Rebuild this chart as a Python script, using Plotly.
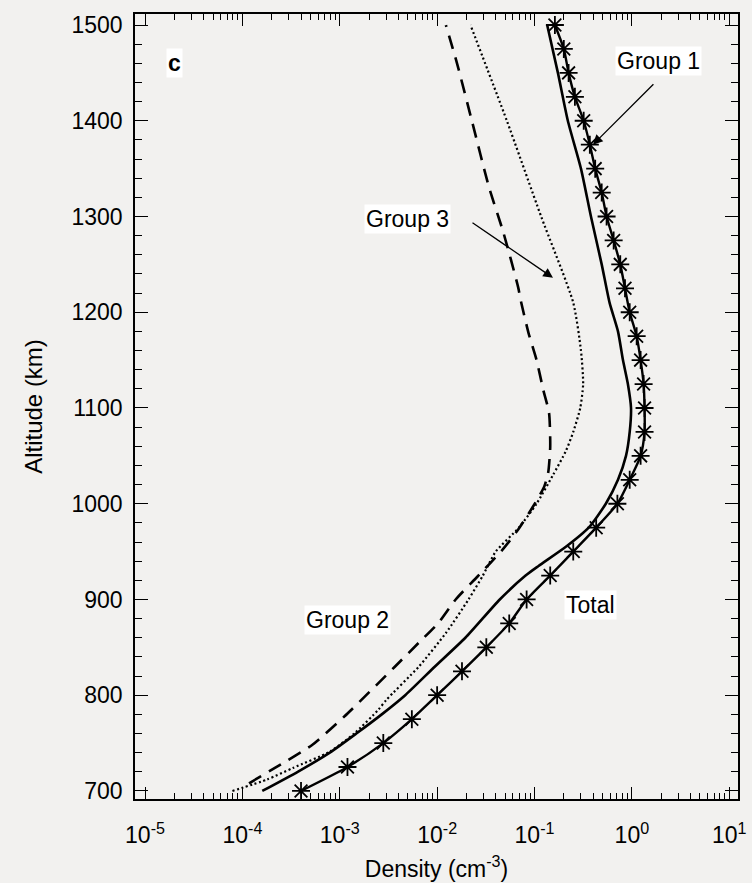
import plotly.graph_objects as go

# Altitude grid (km) of the sampled total profile, one point every 25 km
total_alt = [700, 725, 750, 775, 800, 825, 850, 875, 900, 925, 950, 975, 1000,
             1025, 1050, 1075, 1100, 1125, 1150, 1175, 1200, 1225, 1250, 1275,
             1300, 1325, 1350, 1375, 1400, 1425, 1450, 1475, 1500]
total_dens = [4.0e-4, 1.2e-3, 2.8e-3, 5.5e-3, 1.0e-2, 1.8e-2, 3.2e-2, 5.5e-2,
              8.3e-2, 0.145, 0.25, 0.43, 0.71, 0.95, 1.23, 1.35, 1.35, 1.32,
              1.23, 1.12, 0.95, 0.85, 0.76, 0.65, 0.55, 0.49, 0.42, 0.37, 0.32,
              0.26, 0.224, 0.20, 0.162]

# Group 1 (solid)
g1_alt = [700, 720, 740, 760, 780, 800, 830, 860, 900, 925, 935, 955, 975,
          1000, 1025, 1050, 1075, 1100, 1125, 1150, 1180, 1210, 1250, 1300,
          1350, 1400, 1450, 1500]
g1_dens = [1.6e-4, 3.7e-4, 7.9e-4, 1.48e-3, 2.7e-3, 4.7e-3, 9.5e-3, 1.95e-2,
           4.4e-2, 8.1e-2, 0.11, 0.21, 0.36, 0.54, 0.72, 0.87, 0.95, 0.98,
           0.91, 0.81, 0.72, 0.59, 0.49, 0.38, 0.30, 0.22, 0.174, 0.135]

# Group 2 (dashed)
g2_alt = [708, 728, 748, 778, 830, 855, 875, 900, 924, 952, 973, 1001,
          1018, 1032, 1059, 1095, 1119, 1150, 1178, 1213, 1226, 1283, 1331,
          1398, 1460, 1500]
g2_dens = [1.17e-4, 2.5e-4, 5.2e-4, 1.12e-3, 3.7e-3, 6.5e-3, 1.02e-2,
           1.55e-2, 2.6e-2, 4.7e-2, 6.8e-2, 0.102, 0.126, 0.138, 0.145, 0.141,
           0.123, 0.105, 0.087, 0.072, 0.068, 0.048, 0.034, 0.023, 0.016,
           0.0123]

# Group 3 (dotted)
g3_alt = [700, 712, 724, 741, 760, 785, 795, 830, 865, 900, 925, 950, 975, 1000,
          1030, 1055, 1075, 1100, 1125, 1160, 1210, 1300, 1400, 1500]
g3_dens = [7.9e-5, 1.8e-4, 3.3e-4, 7.9e-4, 1.41e-3, 2.5e-3, 3.0e-3, 6.5e-3,
           1.23e-2, 2.1e-2, 2.95e-2, 4.0e-2, 6.9e-2, 0.105, 0.155, 0.21, 0.25,
           0.295, 0.316, 0.30, 0.25, 0.117, 0.052, 0.022]

# Axis tick labels
x_exponents = [-5, -4, -3, -2, -1, 0, 1]
x_tick_text = ["10<sup>%d</sup>" % e for e in x_exponents]
y_ticks = [700, 800, 900, 1000, 1100, 1200, 1300, 1400, 1500]

FONT = "Liberation Sans, Arial, Helvetica, sans-serif"
BG = "#f2f1ef"
SMOOTH = dict(shape="spline", smoothing=0.6)

fig = go.Figure()

fig.add_trace(go.Scatter(x=g2_dens, y=g2_alt, mode="lines",
                         line=dict(color="black", width=2.6,
                                   dash="14px,9px", **SMOOTH)))
fig.add_trace(go.Scatter(x=g3_dens, y=g3_alt, mode="lines",
                         line=dict(color="black", width=2.2,
                                   dash="2px,2.6px", **SMOOTH)))
fig.add_trace(go.Scatter(x=g1_dens, y=g1_alt, mode="lines",
                         line=dict(color="black", width=2.6, **SMOOTH)))
fig.add_trace(go.Scatter(x=total_dens, y=total_alt, mode="lines+markers",
                         line=dict(color="black", width=2.4, **SMOOTH),
                         marker=dict(symbol="asterisk-open", size=15,
                                     color="black",
                                     line=dict(color="black", width=1.8))))

minor_x = [k * 10.0 ** e for e in x_exponents[:-1] for k in range(2, 10)]

fig.update_xaxes(
    type="log", range=[-5.103, 1.09], automargin=False,
    tickmode="array", tickvals=[10.0 ** e for e in x_exponents],
    ticktext=x_tick_text,
    ticks="inside", ticklen=12, tickwidth=1.3, tickcolor="black",
    minor=dict(tickmode="array", tickvals=minor_x, ticks="inside",
               ticklen=6, tickwidth=1.2, tickcolor="black"),
    showline=True, linecolor="black", linewidth=1.6, mirror="allticks",
    showgrid=False, zeroline=False,
    tickfont=dict(family=FONT, size=23, color="black"),
    ticklabelstandoff=15,
    title=dict(text="Density (cm<sup>-3</sup>)",
               font=dict(family=FONT, size=23, color="black"), standoff=13),
)
fig.update_yaxes(
    range=[691.6, 1511.5], automargin=False,
    tickmode="array", tickvals=y_ticks,
    ticks="inside", ticklen=13, tickwidth=1.3, tickcolor="black",
    minor=dict(tickmode="linear", tick0=700, dtick=20, ticks="inside",
               ticklen=7, tickwidth=1.2, tickcolor="black"),
    showline=True, linecolor="black", linewidth=1.6, mirror="allticks",
    showgrid=False, zeroline=False,
    tickfont=dict(family=FONT, size=23, color="black"),
    ticklabelstandoff=6,
    title=dict(text="Altitude (km)",
               font=dict(family=FONT, size=24, color="black"), standoff=22),
)

label_font = dict(family=FONT, size=23, color="black")
annotations = [
    dict(x=-4.70, y=1460, text="<b>c</b>", showarrow=False,
         bgcolor="white", borderpad=1, font=label_font),
    dict(x=0.27, y=1462, text="Group 1", showarrow=False,
         bgcolor="white", borderpad=1, font=label_font),
    dict(x=-2.30, y=1297, text="Group 3", showarrow=False,
         bgcolor="white", borderpad=1, font=label_font),
    dict(x=-2.92, y=879, text="Group 2", showarrow=False,
         bgcolor="white", borderpad=1, font=label_font),
    dict(x=-0.43, y=894, text="Total", showarrow=False,
         bgcolor="white", borderpad=1, font=label_font),
    # arrows pointing from the labels to their curves
    dict(x=-0.40, y=1375, text="", showarrow=True, ax=62, ay=-62,
         arrowhead=2, arrowsize=1.5, arrowwidth=1.3, arrowcolor="black",
         standoff=0, startstandoff=0),
    dict(x=-0.81, y=1236, text="", showarrow=True, ax=-82, ay=-56,
         arrowhead=2, arrowsize=1.5, arrowwidth=1.3, arrowcolor="black",
         standoff=0, startstandoff=0),
]

fig.update_layout(
    width=752, height=883,
    margin=dict(l=135, r=14, t=14, b=84, autoexpand=False),
    paper_bgcolor=BG, plot_bgcolor=BG,
    showlegend=False,
    annotations=annotations,
    font=dict(family=FONT, color="black"),
)

fig.write_html("out.html")
